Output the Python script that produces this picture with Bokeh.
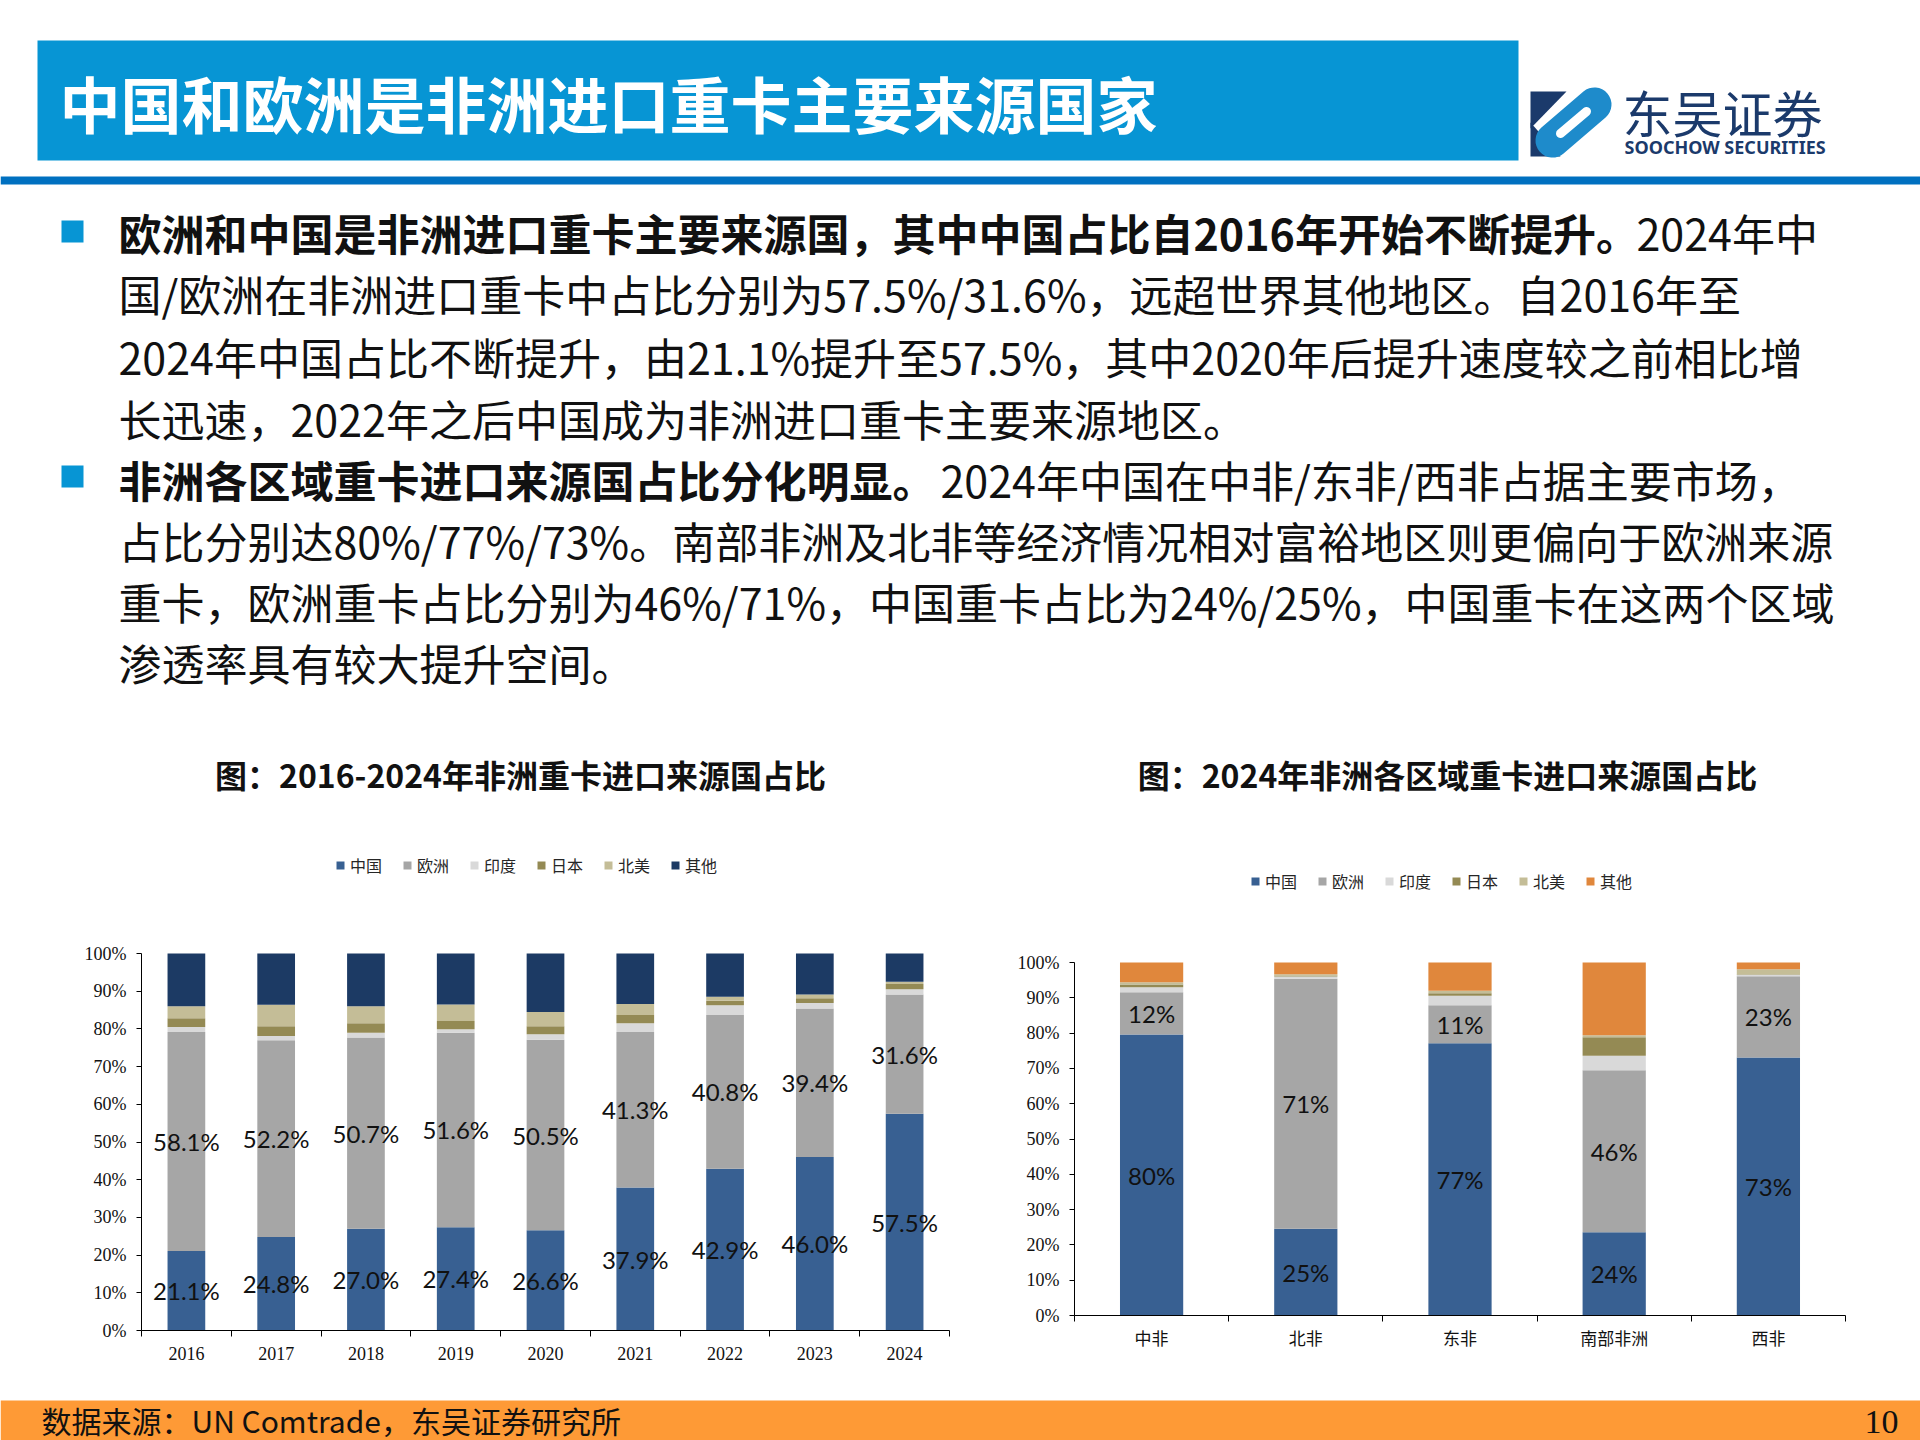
import numpy as np
from bokeh.plotting import figure
from bokeh.models import (Range1d, FixedTicker, PrintfTickFormatter, Legend, LegendItem,
                          ColumnDataSource)
from bokeh.layouts import column, row
from bokeh.embed import file_html
from bokeh.resources import INLINE
from bokeh.core.properties import value

# ---------------- data ----------------
years = ["2016", "2017", "2018", "2019", "2020", "2021", "2022", "2023", "2024"]
china_y = [21.1, 24.8, 27.0, 27.4, 26.6, 37.9, 42.9, 46.0, 57.5]
europe_y = [58.1, 52.2, 50.7, 51.6, 50.5, 41.3, 40.8, 39.4, 31.6]
india_y = [1.3, 1.1, 1.3, 0.9, 1.5, 2.3, 2.6, 1.5, 1.4]
japan_y = [2.3, 2.6, 2.5, 2.2, 2.1, 2.2, 1.2, 1.2, 1.4]
na_y = [3.2, 5.7, 4.5, 4.4, 3.8, 2.9, 1.0, 1.0, 0.6]
other_y = [14.0, 13.6, 14.0, 13.5, 15.5, 13.4, 11.5, 10.9, 7.5]

regions = ["中非", "北非", "东非", "南部非洲", "西非"]
china_r = [79.6, 24.6, 77.1, 23.6, 73.1]
europe_r = [12.0, 70.8, 10.8, 45.9, 23.0]
india_r = [1.4, 0.6, 2.7, 4.1, 0.4]
japan_r = [0.8, 0.3, 0.7, 5.2, 0.2]
na_r = [0.6, 0.4, 0.7, 0.6, 1.4]
other_r = [5.6, 3.3, 8.0, 20.6, 1.9]

series_names = ["中国", "欧洲", "印度", "日本", "北美", "其他"]
y_ticks = [0, 10, 20, 30, 40, 50, 60, 70, 80, 90, 100]

header_title = "中国和欧洲是非洲进口重卡主要来源国家"
chart_title_left = "图：2016-2024年非洲重卡进口来源国占比"
chart_title_right = "图：2024年非洲各区域重卡进口来源国占比"
body_lines = [
    ("欧洲和中国是非洲进口重卡主要来源国，其中中国占比自2016年开始不断提升。", "2024年中"),
    ("", "国/欧洲在非洲进口重卡中占比分别为57.5%/31.6%，远超世界其他地区。自2016年至"),
    ("", "2024年中国占比不断提升，由21.1%提升至57.5%，其中2020年后提升速度较之前相比增"),
    ("", "长迅速，2022年之后中国成为非洲进口重卡主要来源地区。"),
    ("非洲各区域重卡进口来源国占比分化明显。", "2024年中国在中非/东非/西非占据主要市场，"),
    ("", "占比分别达80%/77%/73%。南部非洲及北非等经济情况相对富裕地区则更偏向于欧洲来源"),
    ("", "重卡，欧洲重卡占比分别为46%/71%，中国重卡占比为24%/25%，中国重卡在这两个区域"),
    ("", "渗透率具有较大提升空间。"),
]
source_text = "数据来源：UN Comtrade，东吴证券研究所"
page_no = "10"

# ---------------- style ----------------
CJK = value("Noto Sans CJK SC")
SERIF = "Liberation Serif"
C_CHINA = "#386092"
C_EUROPE = "#A6A6A6"
C_INDIA = "#D9D9D9"
C_JAPAN = "#948A54"
C_NA = "#C4BD97"
C_OTHER_L = "#1C3A64"
C_OTHER_R = "#E0873C"
BLUE = "#0795D4"

# ---------------- top part ----------------
TOP_H = 840
top = figure(width=1920, height=TOP_H, x_range=Range1d(0, 1920), y_range=Range1d(TOP_H, 0),
             toolbar_location=None, output_backend="svg", x_axis_location=None,
             y_axis_location=None, min_border=0, outline_line_color=None)
top.grid.visible = False

top.quad(left=[37], right=[1518], top=[40], bottom=[160], fill_color=BLUE, line_color=None)
top.quad(left=[0], right=[1920], top=[176], bottom=[184], fill_color="#0070C0", line_color=None)
top.text(x=[59], y=[102], text=[header_title], text_font=CJK, text_font_size="61px",
         text_font_style="bold", text_color="white", text_baseline="middle", text_align="left")

# logo
top.patch(x=[1530, 1566, 1530], y=[91, 91, 128], fill_color="#1B3A6B", line_color=None)
top.patch(x=[1530, 1530, 1560], y=[122, 156, 156], fill_color="#1B3A6B", line_color=None)
top.line(x=[1552, 1594], y=[140, 104], line_width=34, line_color="#1E8BCB", line_cap="round")
top.line(x=[1560, 1586], y=[133, 111], line_width=9, line_color="white", line_cap="round")
top.text(x=[1622], y=[110], text=["东吴证券"], text_font=CJK, text_font_size="50px",
         text_color="#1B3A6B", text_baseline="middle", text_align="left")
top.text(x=[1624], y=[146], text=["SOOCHOW SECURITIES"], text_font=value("Noto Sans"),
         text_font_size="18px", text_font_style="bold", text_color="#1B3A6B",
         text_baseline="middle", text_align="left")

# body
line_y = [231, 292, 355, 417, 478, 539, 600, 661]
normal_x = [1636, 118, 118, 118, 940, 118, 118, 118]
top.quad(left=[61, 61], right=[83, 83], top=[220, 465], bottom=[242, 487], fill_color=BLUE,
         line_color=None)
bx, by, bt, nx, ny, nt = [], [], [], [], [], []
for (b, n), yy, xx in zip(body_lines, line_y, normal_x):
    if b:
        bx.append(118); by.append(yy); bt.append(b)
    nx.append(xx); ny.append(yy); nt.append(n)
top.text(x=bx, y=by, text=bt, text_font=CJK, text_font_size="43px", text_font_style="bold",
         text_color="#111111", text_baseline="middle", text_align="left")
top.text(x=nx, y=ny, text=nt, text_font=CJK, text_font_size="43px",
         text_color="#111111", text_baseline="middle", text_align="left")

top.text(x=[520, 1447], y=[773, 773], text=[chart_title_left, chart_title_right], text_font=CJK,
         text_font_size="32px", text_font_style="bold", text_color="#111111",
         text_baseline="middle", text_align="center")


# ---------------- charts ----------------
ROW_TOP = TOP_H          # page y where the chart row starts
FRAME_TOP = 850          # page y of plot frame top (legend lives inside the frame)
MB_BOTTOM = 50


def make_chart(cats, vals, colors, fig_h, mb_left, mb_right, y100_page, bar_w,
               xlab_font, xlab_size, xstandoff, leg_x_page, leg_bottom_page, label_fmt):
    n = len(cats)
    mb_top = FRAME_TOP - ROW_TOP
    y0_page = ROW_TOP + fig_h - MB_BOTTOM
    px_per_unit = (y0_page - y100_page) / 100.0
    y_end = 100 + (y100_page - FRAME_TOP) / px_per_unit
    p = figure(width=960, height=fig_h, x_range=Range1d(0, n), y_range=Range1d(0, y_end),
               toolbar_location=None, output_backend="svg", min_border_left=mb_left,
               min_border_right=mb_right, min_border_top=mb_top, min_border_bottom=MB_BOTTOM,
               outline_line_color=None)
    p.grid.visible = False
    centers = [i + 0.5 for i in range(n)]
    data = {"x": centers}
    keys = ["china", "europe", "india", "japan", "na", "other"]
    for k, v in zip(keys, vals):
        data[k] = v
    src = ColumnDataSource(data)
    rs = p.vbar_stack(keys, x="x", width=bar_w, fill_color=colors, line_color=None, source=src)

    # labels for China and Europe
    ch = np.array(vals[0]); eu = np.array(vals[1])
    lx = centers + centers
    ly = list(ch / 2) + list(ch + eu / 2)
    lt = [label_fmt(v) for v in ch] + [label_fmt(v) for v in eu]
    p.text(x=lx, y=ly, text=lt, text_font=value("Lato"), text_font_size="24px",
           text_color="#111111", text_align="center", text_baseline="middle")

    # x axis
    xa = p.xaxis[0]
    xa.ticker = FixedTicker(ticks=centers, minor_ticks=list(range(n + 1)))
    xa.major_label_overrides = {c: lab for c, lab in zip(centers, cats)}
    xa.major_tick_out = 0
    xa.major_tick_in = 0
    xa.minor_tick_out = 6
    xa.minor_tick_in = 0
    xa.minor_tick_line_color = "black"
    xa.axis_line_color = "black"
    xa.major_label_text_font = xlab_font
    xa.major_label_text_font_size = xlab_size
    xa.major_label_text_color = "#111111"
    xa.major_label_standoff = xstandoff

    ya = p.yaxis[0]
    ya.ticker = FixedTicker(ticks=y_ticks, minor_ticks=[])
    ya.formatter = PrintfTickFormatter(format="%d%%")
    ya.bounds = (0, 100)
    ya.major_tick_out = 5
    ya.major_tick_in = 0
    ya.minor_tick_line_color = None
    ya.axis_line_color = "black"
    ya.major_tick_line_color = "black"
    ya.major_label_text_font = SERIF
    ya.major_label_text_font_size = "18px"
    ya.major_label_text_color = "#111111"
    ya.major_label_standoff = 10

    items = [LegendItem(label=nm, renderers=[r]) for nm, r in zip(series_names, rs)]
    frame_left_page = mb_left
    leg = Legend(items=items, orientation="horizontal",
                 location=(leg_x_page - frame_left_page, y0_page - leg_bottom_page),
                 glyph_width=10, glyph_height=10, label_standoff=5, spacing=20,
                 padding=0, margin=0, border_line_color=None, background_fill_alpha=0,
                 label_text_font="Noto Sans CJK SC", label_text_font_size="16px",
                 label_text_color="#262626", label_height=16)
    p.add_layout(leg, "center")
    return p


left = make_chart(years, [china_y, europe_y, india_y, japan_y, na_y, other_y],
                  [C_CHINA, C_EUROPE, C_INDIA, C_JAPAN, C_NA, C_OTHER_L],
                  540, 141, 11, 953, 0.42, SERIF, "18px", 10, 335, 877,
                  lambda v: f"{v:.1f}%")
right = make_chart(regions, [china_r, europe_r, india_r, japan_r, na_r, other_r],
                   [C_CHINA, C_EUROPE, C_INDIA, C_JAPAN, C_NA, C_OTHER_R],
                   525, 114, 75, 962, 0.41, "Noto Sans CJK SC", "17px", 3, 1250 - 960, 893,
                   lambda v: f"{round(v)}%")

# ---------------- footer ----------------
FOOT_TOP = 1380
foot = figure(width=1920, height=60, x_range=Range1d(0, 1920), y_range=Range1d(1440, FOOT_TOP),
              toolbar_location=None, output_backend="svg", x_axis_location=None,
              y_axis_location=None, min_border=0, outline_line_color=None)
foot.grid.visible = False
foot.quad(left=[0], right=[1920], top=[1400], bottom=[1440], fill_color="#FE9A36",
          line_color=None)
foot.text(x=[41], y=[1419], text=[source_text], text_font=CJK, text_font_size="30px",
          text_color="#111111", text_baseline="middle", text_align="left")
foot.text(x=[1898], y=[1421], text=[page_no], text_font=value(SERIF), text_font_size="34px",
          text_color="#111111", text_baseline="middle", text_align="right")

layout = column(top, row(left, right, spacing=0), foot, spacing=0)
open("out.html", "w").write(file_html(layout, INLINE))
